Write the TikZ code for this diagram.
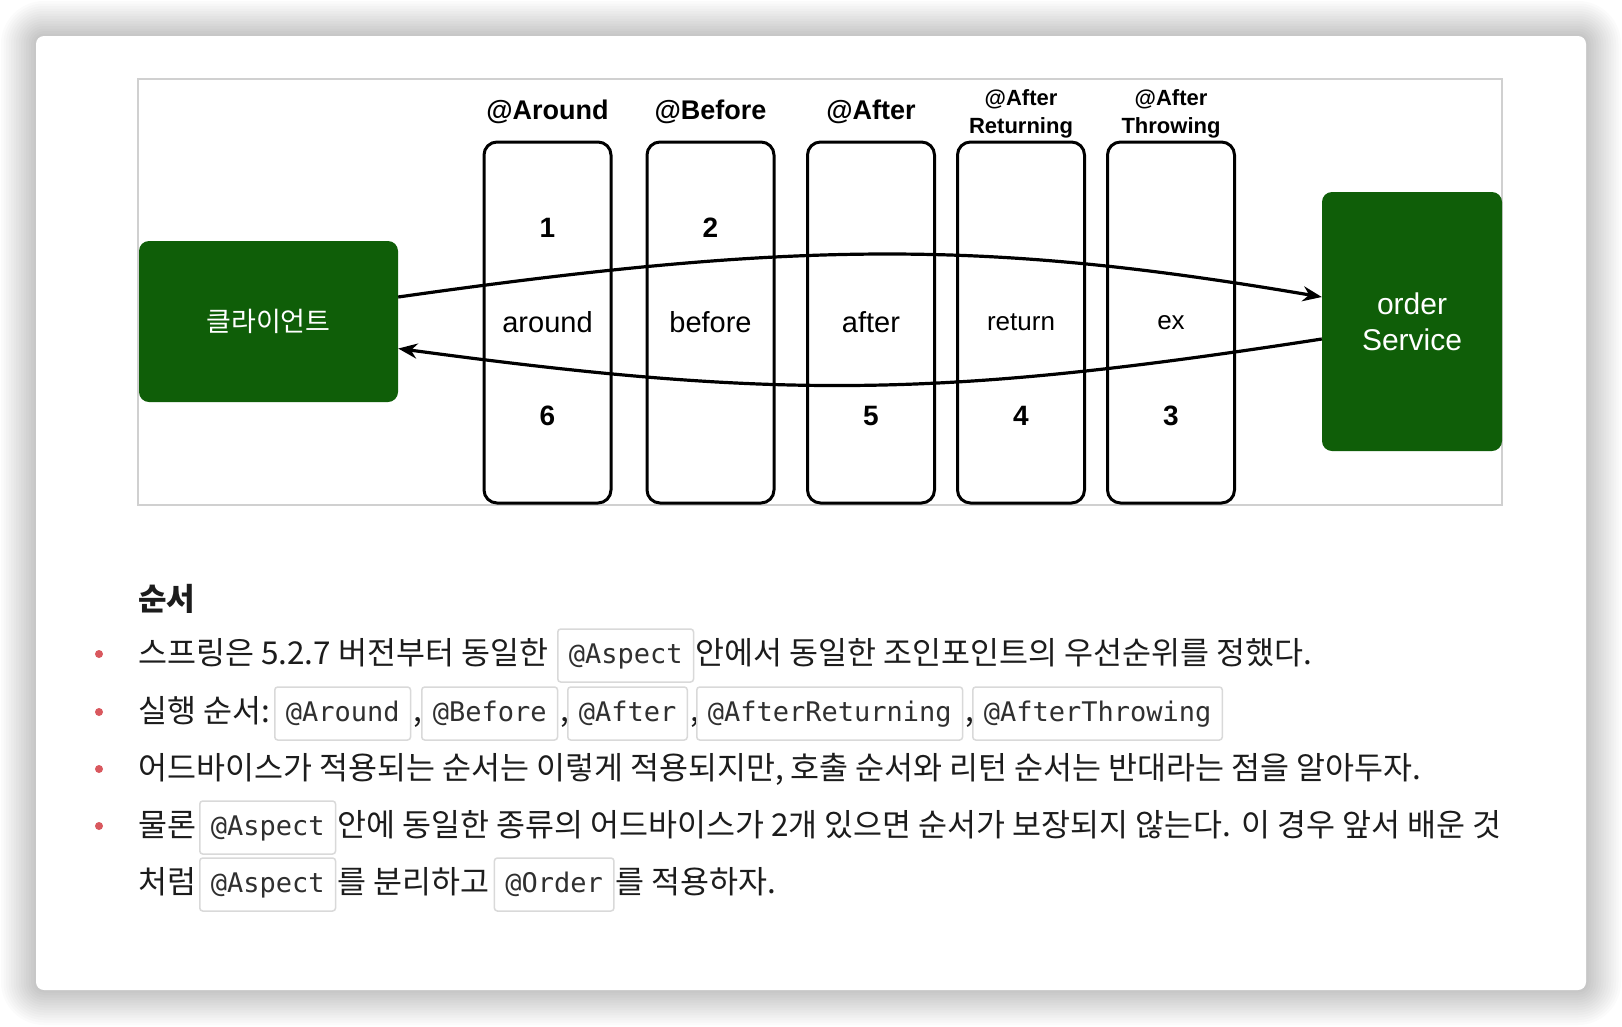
\documentclass[tikz,border=0pt]{standalone}
\usepackage{fontspec}
\setmainfont{Liberation Sans}
\setmonofont{DejaVu Sans Mono}
\newfontfamily\krfont{Noto Sans CJK KR}
\usetikzlibrary{arrows.meta}
\definecolor{svcgreen}{HTML}{0F5E08}
\definecolor{framegray}{HTML}{D0D0D0}
\definecolor{codegray}{HTML}{D9D9D9}
\definecolor{codetext}{HTML}{303030}
\definecolor{bodytext}{HTML}{1C1C1C}
\definecolor{bulletred}{HTML}{D9585E}

\begin{document}
\begin{tikzpicture}[x=1pt, y=-1pt]
    % Stili
    \tikzset{
        service box/.style={
            fill=svcgreen,
            text=white,
            rounded corners=10pt,
            inner sep=0pt
        },
        advice box/.style={
            draw,
            line width=3pt,
            rounded corners=13pt,
            minimum width=127pt,
            minimum height=361pt,
            inner sep=0pt,
            font=\fontsize{29}{34}\selectfont
        },
        advice title/.style={font=\bfseries\fontsize{27}{32}\selectfont},
        advice subtitle/.style={font=\bfseries\fontsize{22}{28}\selectfont, align=center},
        step number/.style={font=\bfseries\fontsize{28}{32}\selectfont},
        flow arrow/.style={line width=3.2pt, -{Stealth[length=19pt, width=15pt]}},
        body/.style={
            font=\krfont\fontsize{31.5}{36}\selectfont,
            text=bodytext,
            inner sep=0pt,
            anchor=base west
        },
        code/.style={
            draw=codegray,
            line width=1.5pt,
            rounded corners=3pt,
            fill=white,
            font=\ttfamily\fontsize{27}{32}\selectfont,
            text=codetext,
            inner xsep=11pt,
            inner ysep=0pt,
            text height=34pt,
            text depth=19pt,
            anchor=base west
        },
        bullet/.style={circle, fill=bulletred, inner sep=0pt, minimum size=8pt}
    }

    % Sfondo e scheda
    \useasboundingbox (0,0) rectangle (1622,1026);
    \fill[white] (0,0) rectangle (1622,1026);
    \foreach \i in {1,...,14}
        \fill[black, opacity=0.017, rounded corners={(8+2.5*\i)*1pt}]
            ({36-2.5*\i},{36-2.5*\i}) rectangle ({1586+2.5*\i},{990+2.5*\i});
    \fill[white, rounded corners=8pt] (36,36) rectangle (1586,990);
    \draw[framegray, line width=2pt] (138,79) rectangle (1502,505);

    % Client e servizio
    \node[service box, minimum width=259pt, minimum height=161pt,
          font=\krfont\fontsize{27}{32}\selectfont] (client) at (268.5,321.5) {클라이언트};
    \node[service box, minimum width=180pt, minimum height=259pt, align=center,
          font=\fontsize{30}{36}\selectfont] (order) at (1412,321.5) {order\\Service};

    % Advice
    \node[advice box] (around) at (547.5,322.5) {around};
    \node[advice box] (before) at (710.5,322.5) {before};
    \node[advice box] (after) at (871,322.5) {after};
    \node[advice box, font=\fontsize{26}{32}\selectfont] (return) at (1021,322.5) {return};
    \node[advice box, font=\fontsize{26}{32}\selectfont] (ex) at (1171,322.5) {ex};

    \node[advice title] (tAround) at (547.5,112) {@Around};
    \node[advice title] (tBefore) at (710.5,112) {@Before};
    \node[advice title] (tAfter) at (871,112) {@After};
    \node[advice subtitle] (tReturning) at (1021,114) {@After\\Returning};
    \node[advice subtitle] (tThrowing) at (1171,114) {@After\\Throwing};

    \node[step number] (n1) at (547.5,228) {1};
    \node[step number] (n2) at (710.5,228) {2};
    \node[step number] (n3) at (1171,416) {3};
    \node[step number] (n4) at (1021,416) {4};
    \node[step number] (n5) at (871,416) {5};
    \node[step number] (n6) at (547.5,416) {6};

    % Frecce
    \draw[flow arrow] ([yshift=24.5pt]client.east)
        .. controls (800,240) and (987,240) .. ([yshift=24.5pt]order.west);
    \draw[flow arrow] ([yshift=-17.5pt]order.west)
        .. controls (940,398) and (780,400) .. ([yshift=-27pt]client.east);

    % Testo
    \node[body, font=\krfont\bfseries\fontsize{31}{36}\selectfont] (title) at (138,610) {순서};

    \node[bullet] (b1) at (99,654) {};
    \node[body] (s1a) at (138,664) {스프링은 5.2.7 버전부터 동일한};
    \node[code] (s1b) at (557,663) {@Aspect};
    \node[body] (s1c) at ([xshift=1pt,yshift=-1pt]s1b.base east) {안에서 동일한 조인포인트의 우선순위를 정했다.};

    \node[bullet] (b2) at (99,712) {};
    \node[body] (s2a) at (138,722) {실행 순서:};
    \node[code] (s2b) at (274,721) {@Around};
    \node[body] (s2c) at ([xshift=2pt]s2b.base east) {,};
    \node[code] (s2d) at (421,721) {@Before};
    \node[body] (s2e) at ([xshift=2pt]s2d.base east) {,};
    \node[code] (s2f) at (567,721) {@After};
    \node[body] (s2g) at ([xshift=2pt]s2f.base east) {,};
    \node[code] (s2h) at (696,721) {@AfterReturning};
    \node[body] (s2i) at ([xshift=2pt]s2h.base east) {,};
    \node[code] (s2j) at (972,721) {@AfterThrowing};

    \node[bullet] (b3) at (99,769) {};
    \node[body] (s3a) at (138,779) {어드바이스가 적용되는 순서는 이렇게 적용되지만, 호출 순서와 리턴 순서는 반대라는 점을 알아두자.};

    \node[bullet] (b4) at (99,826) {};
    \node[body] (s4a) at (138,836) {물론};
    \node[code] (s4b) at (199,835) {@Aspect};
    \node[body] (s4c) at ([xshift=1pt,yshift=-1pt]s4b.base east) {안에 동일한 종류의 어드바이스가 2개 있으면 순서가 보장되지 않는다. 이 경우 앞서 배운 것};

    \node[body] (s5a) at (138,893) {처럼};
    \node[code] (s5b) at (199,892) {@Aspect};
    \node[body] (s5c) at ([xshift=1pt,yshift=-1pt]s5b.base east) {를 분리하고};
    \node[code] (s5d) at ([xshift=4pt,yshift=1pt]s5c.base east) {@Order};
    \node[body] (s5e) at ([xshift=1pt,yshift=-1pt]s5d.base east) {를 적용하자.};
\end{tikzpicture}
\end{document}
